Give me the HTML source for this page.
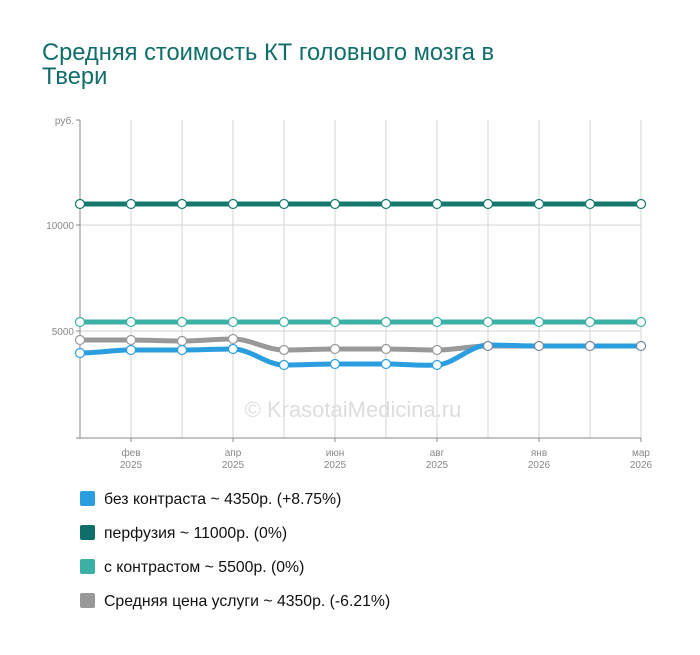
<!DOCTYPE html>
<html><head><meta charset="utf-8"><style>
body{margin:0;background:#fff;width:700px;height:650px;overflow:hidden;font-family:"Liberation Sans",sans-serif}
</style></head><body>
<svg width="700" height="650" xmlns="http://www.w3.org/2000/svg" font-family="Liberation Sans, sans-serif">
<text x="42" y="60" font-size="23.7" fill="#0f6e6a">Средняя стоимость КТ головного мозга в</text>
<text x="42" y="84" font-size="23.7" fill="#0f6e6a">Твери</text>
<g stroke="#d4d4d4" stroke-width="1">
<line x1="131" y1="120" x2="131" y2="438"/><line x1="182" y1="120" x2="182" y2="438"/>
<line x1="233" y1="120" x2="233" y2="438"/><line x1="284" y1="120" x2="284" y2="438"/>
<line x1="335" y1="120" x2="335" y2="438"/><line x1="386" y1="120" x2="386" y2="438"/>
<line x1="437" y1="120" x2="437" y2="438"/><line x1="488" y1="120" x2="488" y2="438"/>
<line x1="539" y1="120" x2="539" y2="438"/><line x1="590" y1="120" x2="590" y2="438"/>
<line x1="641" y1="120" x2="641" y2="438"/>
<line x1="80" y1="225" x2="641" y2="225"/><line x1="80" y1="331" x2="641" y2="331"/>
</g>
<g stroke="#888" stroke-width="1">
<line x1="80" y1="120" x2="80" y2="438"/><line x1="80" y1="438" x2="641" y2="438"/>
<line x1="76" y1="120" x2="80" y2="120"/><line x1="76" y1="225" x2="80" y2="225"/><line x1="76" y1="331" x2="80" y2="331"/><line x1="76" y1="438" x2="80" y2="438"/>
<line x1="131" y1="438" x2="131" y2="442"/><line x1="233" y1="438" x2="233" y2="442"/><line x1="335" y1="438" x2="335" y2="442"/><line x1="437" y1="438" x2="437" y2="442"/><line x1="539" y1="438" x2="539" y2="442"/><line x1="641" y1="438" x2="641" y2="442"/>
</g>
<g font-size="10" fill="#888" text-anchor="end">
<text x="74" y="124">руб.</text><text x="74" y="229">10000</text><text x="74" y="335">5000</text>
</g>
<g font-size="10" fill="#888" text-anchor="middle">
<text x="131" y="456">фев</text><text x="131" y="468">2025</text>
<text x="233" y="456">апр</text><text x="233" y="468">2025</text>
<text x="335" y="456">июн</text><text x="335" y="468">2025</text>
<text x="437" y="456">авг</text><text x="437" y="468">2025</text>
<text x="539" y="456">янв</text><text x="539" y="468">2026</text>
<text x="641" y="456">мар</text><text x="641" y="468">2026</text>
</g>
<text x="353" y="417" font-size="22" fill="#ddd" text-anchor="middle">© KrasotaiMedicina.ru</text>
<g fill="none" stroke-width="5" stroke-linecap="round">
<path stroke="#16786f" d="M80 204H641"/>
<path stroke="#3db0a6" d="M80 322H641"/>
<path stroke="#999" d="M80 340C97 340 114 340 131 340C148 340 165 341 182 341C199 341 216 339 233 339C250 339 267 350 284 350C301 350 318 349 335 349C352 349 369 349 386 349C403 349 420 350 437 350C454 350 471 346 488 346H641"/>
<path stroke="#2b9ee0" d="M80 353C97 353 114 350 131 350C148 350 165 350 182 350C199 350 216 349 233 349C250 349 267 365 284 365C301 365 318 364 335 364C352 364 369 364 386 364C403 364 420 366 437 365C454 364 471 345 488 345C505 345 522 346 539 346H641"/>
</g>
<g fill="#fff" stroke-width="1.2" stroke="#16786f">
<circle cx="80" cy="204" r="4.5"/><circle cx="131" cy="204" r="4.5"/><circle cx="182" cy="204" r="4.5"/><circle cx="233" cy="204" r="4.5"/><circle cx="284" cy="204" r="4.5"/><circle cx="335" cy="204" r="4.5"/><circle cx="386" cy="204" r="4.5"/><circle cx="437" cy="204" r="4.5"/><circle cx="488" cy="204" r="4.5"/><circle cx="539" cy="204" r="4.5"/><circle cx="590" cy="204" r="4.5"/><circle cx="641" cy="204" r="4.5"/>
</g>
<g fill="#fff" stroke-width="1.2" stroke="#3db0a6">
<circle cx="80" cy="322" r="4.5"/><circle cx="131" cy="322" r="4.5"/><circle cx="182" cy="322" r="4.5"/><circle cx="233" cy="322" r="4.5"/><circle cx="284" cy="322" r="4.5"/><circle cx="335" cy="322" r="4.5"/><circle cx="386" cy="322" r="4.5"/><circle cx="437" cy="322" r="4.5"/><circle cx="488" cy="322" r="4.5"/><circle cx="539" cy="322" r="4.5"/><circle cx="590" cy="322" r="4.5"/><circle cx="641" cy="322" r="4.5"/>
</g>
<g fill="#fff" stroke-width="1.2" stroke="#999">
<circle cx="80" cy="340" r="4.5"/><circle cx="131" cy="340" r="4.5"/><circle cx="182" cy="341" r="4.5"/><circle cx="233" cy="339" r="4.5"/><circle cx="284" cy="350" r="4.5"/><circle cx="335" cy="349" r="4.5"/><circle cx="386" cy="349" r="4.5"/><circle cx="437" cy="350" r="4.5"/>
</g>
<g fill="#fff" stroke-width="1.2" stroke="#2b9ee0">
<circle cx="80" cy="353" r="4.5"/><circle cx="131" cy="350" r="4.5"/><circle cx="182" cy="350" r="4.5"/><circle cx="233" cy="349" r="4.5"/><circle cx="284" cy="365" r="4.5"/><circle cx="335" cy="364" r="4.5"/><circle cx="386" cy="364" r="4.5"/><circle cx="437" cy="365" r="4.5"/>
</g>
<g fill="#fff" stroke-width="1.2" stroke="#789">
<circle cx="488" cy="346" r="4.5"/><circle cx="539" cy="346" r="4.5"/><circle cx="590" cy="346" r="4.5"/><circle cx="641" cy="346" r="4.5"/>
</g>
<rect x="80" y="491" width="15" height="15" rx="2" fill="#2b9ee0"/>
<rect x="80" y="525" width="15" height="15" rx="2" fill="#0f6e6a"/>
<rect x="80" y="559" width="15" height="15" rx="2" fill="#3db0a6"/>
<rect x="80" y="593" width="15" height="15" rx="2" fill="#999"/>
<g font-size="15.8" fill="#111">
<text x="104" y="504">без контраста ~ 4350р. (+8.75%)</text>
<text x="104" y="538">перфузия ~ 11000р. (0%)</text>
<text x="104" y="572">с контрастом ~ 5500р. (0%)</text>
<text x="104" y="606">Средняя цена услуги ~ 4350р. (-6.21%)</text>
</g>
</svg>
</body></html>
